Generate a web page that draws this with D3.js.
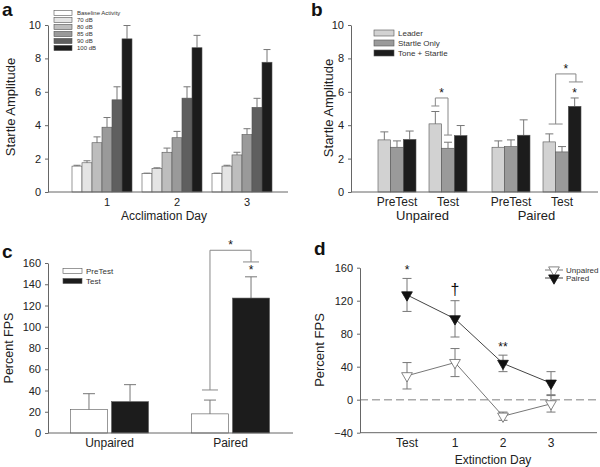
<!DOCTYPE html>
<html>
<head>
<meta charset="utf-8">
<script src="https://cdn.jsdelivr.net/npm/d3@7"></script>
<style>
  body { margin: 0; background: #fff; }
  svg { display: block; font-family: "Liberation Sans", Arial, sans-serif; }
</style>
</head>
<body>
<div id="chart"></div>
<script>
"use strict";

// Panel a: startle amplitude by acclimation day
let days = ["1", "2", "3"];
let dbLevels = ["Baseline Activity", "70 dB", "80 dB", "85 dB", "90 dB", "100 dB"];
let dbMeans = [
  [1.55, 1.75, 2.95, 3.88, 5.52, 9.17],
  [1.1, 1.4, 2.38, 3.25, 5.62, 8.64],
  [1.1, 1.55, 2.22, 3.44, 5.07, 7.77]
];
let dbErrors = [
  [0.05, 0.12, 0.35, 0.58, 0.78, 0.8],
  [0.03, 0.05, 0.25, 0.38, 0.68, 0.74],
  [0.03, 0.05, 0.16, 0.35, 0.54, 0.76]
];

// Panel b: leader / startle only / tone + startle
let groupsB = ["Unpaired", "Paired"];
let phases = ["PreTest", "Test"];
let trialTypes = ["Leader", "Startle Only", "Tone + Startle"];
let trialMeans = [
  [[3.12, 2.68, 3.15], [4.08, 2.62, 3.38]],
  [[2.68, 2.72, 3.4], [3.0, 2.4, 5.13]]
];
let trialErrors = [
  [[0.48, 0.38, 0.5], [0.74, 0.36, 0.6]],
  [[0.38, 0.4, 0.92], [0.48, 0.32, 0.5]]
];

// Panel c: percent FPS, pretest vs test
let groupsC = ["Unpaired", "Paired"];
let fpsMeans = [[22, 29.5], [18, 127]];
let fpsErrors = [[15, 16], [13, 20]];

// Panel d: percent FPS over extinction days
let extinctionDays = ["Test", "1", "2", "3"];
let unpairedFps = [29, 45, -20, -5];
let unpairedErr = [16, 17, 5, 10];
let pairedFps = [127, 98, 44, 20];
let pairedErr = [20, 22, 10, 14];
let dayMarks = ["*", "\u2020", "**", ""];

let axisColour = "#666";
let barStroke = "#555";
let errColour = "#777";

let svg = d3.select("#chart").append("svg")
  .attr("width", 600)
  .attr("height", 467);

function yAxis(scale, x, ticks) {
  svg.append("g")
    .attr("transform", `translate(${x},0)`)
    .call(d3.axisLeft(scale).tickValues(ticks).tickSize(3).tickPadding(4).tickSizeOuter(0))
    .call(g => g.selectAll("text").style("font-size", "11px").attr("fill", "#222"))
    .call(g => g.selectAll("line,path").attr("stroke", axisColour));
}

function xLine(x0, x1, y) {
  svg.append("line")
    .attr("x1", x0).attr("x2", x1)
    .attr("y1", y).attr("y2", y)
    .attr("stroke", axisColour);
}

function label(x, y, text, size, opts = {}) {
  let t = svg.append("text")
    .attr("x", x).attr("y", y)
    .attr("text-anchor", opts.anchor || "middle")
    .style("font-size", size + "px")
    .attr("fill", opts.fill || "#222")
    .text(text);
  if (opts.bold) t.style("font-weight", "bold");
  if (opts.rotate) t.attr("transform", `rotate(-90,${x},${y})`);
  return t;
}

function upperError(x, yMean, yTop, cap) {
  svg.append("line")
    .attr("x1", x).attr("x2", x)
    .attr("y1", yMean).attr("y2", yTop)
    .attr("stroke", errColour);
  svg.append("line")
    .attr("x1", x - cap / 2).attr("x2", x + cap / 2)
    .attr("y1", yTop).attr("y2", yTop)
    .attr("stroke", errColour);
}

// ---------- panel a ----------
let yA = d3.scaleLinear().domain([0, 10]).range([192, 25]);
let dayScale = d3.scaleBand().domain(days).range([72, 282]);
let dbScale = d3.scaleBand().domain(d3.range(7)).range([0, 70]);
let dbColours = ["#ffffff", "#e4e4e4", "#bdbdbd", "#9a9a9a", "#5f5f5f", "#1c1c1c"];

days.forEach((day, di) => {
  dbLevels.forEach((lvl, li) => {
    let x = dayScale(day) + dbScale(li);
    let w = dbScale.bandwidth();
    let v = dbMeans[di][li];
    upperError(x + w / 2, yA(v), yA(v + dbErrors[di][li]), 7);
    svg.append("rect")
      .attr("x", x).attr("y", yA(v))
      .attr("width", w).attr("height", yA(0) - yA(v))
      .attr("fill", dbColours[li])
      .attr("stroke", barStroke).attr("stroke-width", 0.6);
  });
  label(dayScale(day) + dayScale.bandwidth() / 2, 206, day, 11);
});
yAxis(yA, 48, [0, 2, 4, 6, 8, 10]);
xLine(48, 288, yA(0));
label(164, 220, "Acclimation Day", 12);
label(15, 107, "Startle Amplitude", 13, { rotate: true });
label(2, 16, "a", 19, { anchor: "start", bold: true, fill: "#111" });

// legend rows are tight in the original, keep the text just small enough not to collide
dbLevels.forEach((lvl, li) => {
  let cy = 13 + li * 7;
  svg.append("rect")
    .attr("x", 54).attr("y", cy - 2.6)
    .attr("width", 18).attr("height", 5.2)
    .attr("fill", dbColours[li])
    .attr("stroke", barStroke).attr("stroke-width", 0.6);
  label(77, cy + 2.2, lvl, 6, { anchor: "start", fill: "#333" });
});

// ---------- panel b ----------
let yB = d3.scaleLinear().domain([0, 10]).range([192, 25]);
let groupScaleB = d3.scaleBand().domain(groupsB).range([365.5, 593.5]);
let phaseScale = d3.scaleBand().domain(phases).range([0, 114])
  .paddingInner(0.255).paddingOuter(0.245);
let trialScale = d3.scaleBand().domain(trialTypes).range([0, phaseScale.bandwidth()]);
let trialColours = ["#d2d2d2", "#9a9a9a", "#1c1c1c"];

function barXB(gi, pi, ti) {
  return groupScaleB(groupsB[gi]) + phaseScale(phases[pi]) + trialScale(trialTypes[ti]);
}

groupsB.forEach((grp, gi) => {
  phases.forEach((ph, pi) => {
    trialTypes.forEach((tt, ti) => {
      let x = barXB(gi, pi, ti);
      let w = trialScale.bandwidth();
      let v = trialMeans[gi][pi][ti];
      upperError(x + w / 2, yB(v), yB(v + trialErrors[gi][pi][ti]), 8);
      svg.append("rect")
        .attr("x", x).attr("y", yB(v))
        .attr("width", w).attr("height", yB(0) - yB(v))
        .attr("fill", trialColours[ti])
        .attr("stroke", barStroke).attr("stroke-width", 0.6);
    });
    label(groupScaleB(grp) + phaseScale(ph) + phaseScale.bandwidth() / 2, 206, ph, 12);
  });
  label(groupScaleB(grp) + groupScaleB.bandwidth() / 2, 220, grp, 13);
});
yAxis(yB, 351, [0, 2, 4, 6, 8, 10]);
xLine(351, 598, yB(0));
label(333, 108, "Startle Amplitude", 13, { rotate: true });
label(311, 16, "b", 19, { anchor: "start", bold: true, fill: "#111" });

trialTypes.forEach((tt, ti) => {
  let cy = 33 + ti * 10;
  svg.append("rect")
    .attr("x", 374).attr("y", cy - 3)
    .attr("width", 20).attr("height", 6)
    .attr("fill", trialColours[ti])
    .attr("stroke", barStroke).attr("stroke-width", 0.6);
  label(398, cy + 3, tt, 8, { anchor: "start", fill: "#333" });
});

// significance brackets: left x, right x, then left / top / right heights in data units
function bracket(xl, xr, yl, yt, yr, scale, tick, star) {
  let path = d3.path();
  path.moveTo(xl, scale(yl));
  path.lineTo(xl, scale(yt));
  path.lineTo(xr, scale(yt));
  path.lineTo(xr, scale(yr));
  svg.append("path").attr("d", path.toString())
    .attr("fill", "none").attr("stroke", "#888");
  [[xl, yl], [xr, yr]].forEach(([x, y]) => {
    svg.append("line")
      .attr("x1", x - tick / 2).attr("x2", x + tick / 2)
      .attr("y1", scale(y)).attr("y2", scale(y))
      .attr("stroke", "#888");
  });
  label((xl + xr) / 2, scale(yt) - 1, "*", star, { fill: "#111" });
}

let bw = trialScale.bandwidth();
bracket(barXB(0, 1, 0) + bw / 2, barXB(0, 1, 1) + bw / 2, 5.15, 5.63, 3.41, yB, 8, 12);
bracket(barXB(1, 1, 0) + bw, barXB(1, 1, 2) + bw * 0.6, 4.07, 7.07, 6.59, yB, 14, 12);
label(barXB(1, 1, 2) + bw / 2, yB(5.64) - 1, "*", 12, { fill: "#111" });

// ---------- panel c ----------
let yC = d3.scaleLinear().domain([0, 160]).range([433, 263]);
let groupScaleC = d3.scaleBand().domain(groupsC).range([49, 291]);
let phaseScaleC = d3.scaleBand().domain(phases).range([21.5, 99.5]).paddingInner(0.1);
let phaseColours = ["#ffffff", "#1c1c1c"];

function barXC(gi, pi) {
  return groupScaleC(groupsC[gi]) + phaseScaleC(phases[pi]);
}

groupsC.forEach((grp, gi) => {
  phases.forEach((ph, pi) => {
    let x = barXC(gi, pi);
    let w = phaseScaleC.bandwidth();
    let v = fpsMeans[gi][pi];
    upperError(x + w / 2, yC(v), yC(v + fpsErrors[gi][pi]), 12);
    svg.append("rect")
      .attr("x", x).attr("y", yC(v))
      .attr("width", w).attr("height", yC(0) - yC(v))
      .attr("fill", phaseColours[pi])
      .attr("stroke", barStroke).attr("stroke-width", 0.6);
  });
  label(groupScaleC(grp) + groupScaleC.bandwidth() / 2, 447, grp, 12);
});
yAxis(yC, 48, d3.range(0, 161, 20));
xLine(48, 293, yC(0));
label(13, 348, "Percent FPS", 12.5, { rotate: true });
label(2, 258, "c", 19, { anchor: "start", bold: true, fill: "#111" });

let cw = phaseScaleC.bandwidth();
bracket(barXC(1, 0) + cw / 2, barXC(1, 1) + cw / 2, 40.5, 172, 161, yC, 16, 12);
label(barXC(1, 1) + cw / 2, yC(147) - 3, "*", 12, { fill: "#111" });

phases.forEach((ph, pi) => {
  let cy = 271 + pi * 10;
  svg.append("rect")
    .attr("x", 63).attr("y", cy - 2.5)
    .attr("width", 19).attr("height", 5)
    .attr("fill", phaseColours[pi])
    .attr("stroke", barStroke).attr("stroke-width", 0.6);
  label(86, cy + 3, ph, 8, { anchor: "start", fill: "#333" });
});

// ---------- panel d ----------
let yD = d3.scaleLinear().domain([-40, 160]).range([432.7, 267.7]);
let xD = d3.scaleLinear().domain([-1, 4]).range([359, 599]);

svg.append("line")
  .attr("x1", 360).attr("x2", 597)
  .attr("y1", yD(0)).attr("y2", yD(0))
  .attr("stroke", "#aaa").attr("stroke-width", 1.5)
  .attr("stroke-dasharray", "8,4");

yAxis(yD, 360, [-40, 0, 40, 80, 120, 160]);
xLine(360, 597, yD(-40));
extinctionDays.forEach((d, i) => label(xD(i), 447, d, 12));
label(493, 464, "Extinction Day", 12);
label(324, 350, "Percent FPS", 13, { rotate: true });
label(314, 255, "d", 19, { anchor: "start", bold: true, fill: "#111" });

let triangle = d3.symbol(d3.symbolTriangle, 50);

function series(means, errs, fill, stroke, lineColour) {
  svg.append("path")
    .datum(means)
    .attr("d", d3.line().x((d, i) => xD(i)).y(d => yD(d)))
    .attr("fill", "none").attr("stroke", lineColour);
  means.forEach((m, i) => {
    let x = xD(i);
    [m - errs[i], m + errs[i]].forEach(e => {
      svg.append("line")
        .attr("x1", x).attr("x2", x)
        .attr("y1", yD(m)).attr("y2", yD(e))
        .attr("stroke", errColour);
      svg.append("line")
        .attr("x1", x - 4.5).attr("x2", x + 4.5)
        .attr("y1", yD(e)).attr("y2", yD(e))
        .attr("stroke", errColour);
    });
  });
  means.forEach((m, i) => {
    svg.append("path")
      .attr("d", triangle())
      .attr("transform", `translate(${xD(i)},${yD(m)}) rotate(180)`)
      .attr("fill", fill).attr("stroke", stroke).attr("stroke-width", 0.8);
  });
}

series(unpairedFps, unpairedErr, "#fff", "#666", "#777");
series(pairedFps, pairedErr, "#111", "#111", "#444");

dayMarks.forEach((m, i) => {
  if (!m) return;
  let big = m == "\u2020";
  label(xD(i), yD(pairedFps[i] + pairedErr[i]) - (big ? 6 : 4), m, big ? 16 : 12, { fill: "#111" });
});

[["Unpaired", "#fff", "#666", "#777"], ["Paired", "#111", "#111", "#444"]].forEach(([name, fill, stroke, lc], i) => {
  let cy = 270 + i * 8;
  svg.append("line")
    .attr("x1", 545).attr("x2", 563)
    .attr("y1", cy).attr("y2", cy)
    .attr("stroke", lc);
  svg.append("path")
    .attr("d", triangle())
    .attr("transform", `translate(554,${cy}) rotate(180)`)
    .attr("fill", fill).attr("stroke", stroke).attr("stroke-width", 0.8);
  label(566, cy + 3, name, 8, { anchor: "start", fill: "#333" });
});
</script>
</body>
</html>
